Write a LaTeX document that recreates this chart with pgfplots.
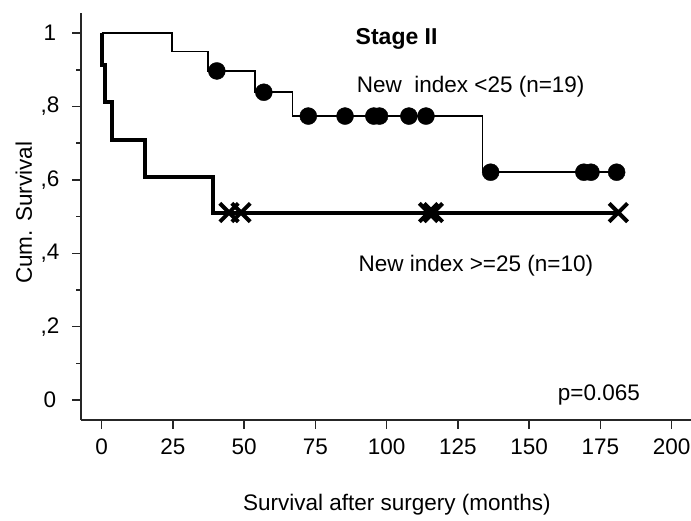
\documentclass[border=0pt]{standalone}
\usepackage{pgfplots}
\pgfplotsset{compat=1.18}
\usepackage{fontspec}
\setmainfont{Liberation Sans}
\begin{document}
\begin{tikzpicture}[x=1pt,y=1pt]
\path[use as bounding box] (0,0) rectangle (691,520);
\begin{axis}[
  at={(81pt,100pt)}, anchor=south west,
  scale only axis, width=610pt, height=407pt,
  xmin=-7.26, xmax=206.8, ymin=-0.0545, ymax=1.055,
  axis x line=bottom, axis y line=left,
  axis line style={-, line width=1.5pt, black!85},
  tick align=outside,
  major tick length=8.5pt, minor tick length=4.5pt,
  tick style={line width=1.5pt, black!85},
  xtick={0,25,...,200}, xticklabels={0,25,50,75,100,125,150,175,200},
  ytick={0,0.2,0.4,0.6,0.8,1}, yticklabels={0,{,2},{,4},{,6},{,8},1},
  minor ytick={0.1,0.3,0.5,0.7,0.9},
  ticklabel style={font=\fontsize{22.5}{27}\selectfont},
  xticklabel style={anchor=base, yshift=-26pt},
  yticklabel style={anchor=center, xshift=-22.5pt},
  clip=false,
]
\addplot[const plot, line width=1.6pt, black] coordinates {(0,1) (24.6,0.95) (37.4,0.897) (53.8,0.839) (66.9,0.774) (133.7,0.621) (180.7,0.621)};
\addplot[only marks, mark=*, mark size=8.5pt, black] coordinates {(40.4,0.897) (56.9,0.839) (72.5,0.774) (85.4,0.774) (95.5,0.774) (97.5,0.774) (107.8,0.774) (113.8,0.774) (136.5,0.621) (169.2,0.621) (171.7,0.621) (180.7,0.621)};
\addplot[const plot, line width=4pt, black] coordinates {(0,1) (0,0.914) (1.2,0.813) (3.5,0.709) (15.2,0.609) (39.2,0.511) (181.3,0.511)};
\addplot[only marks, mark=x, mark size=13pt, line width=4pt, black] coordinates {(44.7,0.511) (48.9,0.511) (114.7,0.511) (116.4,0.511) (181.3,0.511)};
\node[anchor=base, font=\bfseries\fontsize{23}{28}\selectfont] at (axis cs:103.5,0.968) {Stage II};
\node[anchor=base, font=\fontsize{22.5}{27}\selectfont] at (axis cs:129.5,0.837) {New\ \ index <25 (n=19)};
\node[anchor=base, font=\fontsize{22.5}{27}\selectfont] at (axis cs:131.3,0.35) {New index >=25 (n=10)};
\node[anchor=base, font=\fontsize{22.5}{27}\selectfont] at (axis cs:174.5,0) {p=0.065};
\node[anchor=base, font=\fontsize{22.5}{27}\selectfont] at (axis cs:103.6,-0.3) {Survival after surgery (months)};
\node[rotate=90, anchor=center, font=\fontsize{22.5}{27}\selectfont] at (axis cs:-27.3,0.51) {Cum. Survival};
\end{axis}
\end{tikzpicture}
\end{document}
